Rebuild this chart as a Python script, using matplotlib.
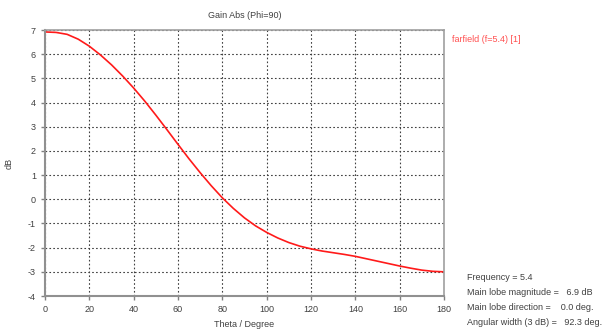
import matplotlib.pyplot as plt

plt.rcParams['font.family'] = ['Liberation Sans', 'DejaVu Sans']
plt.rcParams['axes.unicode_minus'] = False

# Значения (шаг 5 градусов)
theta = [0, 5, 10, 15, 20, 25, 30, 35, 40, 45, 50, 55, 60, 65, 70, 75, 80, 85, 90,
         95, 100, 105, 110, 115, 120, 125, 130, 135, 140, 145, 150, 155, 160, 165, 170, 175, 180]
gain = [6.92, 6.9, 6.82, 6.62, 6.33, 5.97, 5.56, 5.1, 4.6, 4.06, 3.48, 2.88, 2.27, 1.67, 1.1, 0.56, 0.06,
        -0.38, -0.77, -1.1, -1.37, -1.6, -1.79, -1.94, -2.05, -2.14, -2.21, -2.28, -2.36, -2.46, -2.56,
        -2.66, -2.76, -2.85, -2.93, -2.98, -3.0]
x_ticks = [0, 20, 40, 60, 80, 100, 120, 140, 160, 180]
y_ticks = [-4, -3, -2, -1, 0, 1, 2, 3, 4, 5, 6, 7]
info_lines = ['Frequency = 5.4',
              'Main lobe magnitude =   6.9 dB',
              'Main lobe direction =    0.0 deg.',
              'Angular width (3 dB) =   92.3 deg.']

fig = plt.figure(figsize=(6.12, 3.31), dpi=100)
ax = fig.add_axes([45 / 612, 1 - 296 / 331, 399 / 612, 266 / 331])

ax.plot(theta, gain, color='#ff1a1a', linewidth=1.2)
ax.set_xlim(0, 180)
ax.set_ylim(-4, 7)
ax.set_xticks(x_ticks)
ax.set_yticks(y_ticks)
ax.grid(True, linestyle=(0, (1.5, 2)), color='#404040', linewidth=0.8)
ax.tick_params(labelsize=6.5, colors='#808080', labelcolor='#404040', length=3, width=1)
for side in ['left', 'bottom']:
    ax.spines[side].set_color('#909090')
    ax.spines[side].set_linewidth(1.5)
for side in ['top', 'right']:
    ax.spines[side].set_color('#a0a0a0')
    ax.spines[side].set_linewidth(1.2)

ax.set_title('Gain Abs (Phi=90)', fontsize=6.5, color='#404040', pad=9)
ax.set_xlabel('Theta / Degree', fontsize=6.5, color='#404040', labelpad=4)
ax.set_ylabel('dB', fontsize=6.5, color='#404040', labelpad=10)

fig.text(452 / 612, 1 - 40 / 331, 'farfield (f=5.4) [1]', fontsize=6.5, color='#ff5050', va='center')
for i, line in enumerate(info_lines):
    fig.text(467 / 612, 1 - (277 + 15.2 * i) / 331, line, fontsize=6.5, color='#404040', va='center')

plt.savefig('out.png', dpi=100)
